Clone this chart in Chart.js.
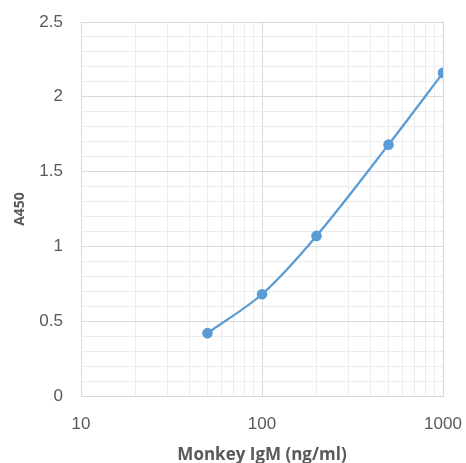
<!DOCTYPE html>
<html>
<head>
<meta charset="utf-8">
<script src="https://cdn.jsdelivr.net/npm/chart.js@4"></script>
<style>
  html,body{margin:0;padding:0;background:#fff;}
  #wrap{width:466px;height:463px;}
</style>
</head>
<body>
<div id="wrap"><canvas id="chart"></canvas></div>
<script>
// ===== Data =====
const concentrations = [50, 100, 200, 500, 1000];   // ng/ml
const absorbance = [0.42, 0.68, 1.07, 1.68, 2.16];  // A450
const xTickLabels = [10, 100, 1000];
const yTickLabels = [0, 0.5, 1, 1.5, 2, 2.5];

const gray = "#595959";
const blue = "#5B9BD5";

// minor grid for log axis: 1..9 per decade
function logTicks(){
  const out = [];
  for(let d=10; d<1000; d*=10){ for(let k=1;k<10;k++) out.push({value:k*d}); }
  out.push({value:1000});
  return out;
}
const isMajorX = v => xTickLabels.includes(Math.round(v));
const isMajorY = v => yTickLabels.some(t => Math.abs(t - v) < 1e-6);

new Chart(document.getElementById("chart"), {
  type: "line",
  data: {
    datasets: [{
      data: concentrations.map((c,i)=>({x:c, y:absorbance[i]})),
      borderColor: blue, backgroundColor: blue,
      borderWidth: 2.25, pointRadius: 4.2, pointHoverRadius: 4.2,
      tension: 0.3, fill: false
    }]
  },
  options: {
    responsive: true, maintainAspectRatio: false, animation: false,
    layout: { padding: { top: 22, right: 23, left: 0, bottom: 0 } },
    plugins: { legend: { display: false }, tooltip: { enabled: false } },
    scales: {
      x: {
        type: "logarithmic", min: 10, max: 1000,
        afterBuildTicks: axis => { axis.ticks = logTicks(); },
        afterFit: axis => { axis.height = 67; axis.paddingLeft = 0; axis.paddingRight = 0; },
        grid: { color: ctx => isMajorX(ctx.tick.value) ? "#d9d9d9" : "#ececec", drawTicks: false },
        border: { color: "#d9d9d9" },
        ticks: {
          autoSkip: false, maxRotation: 0, padding: 18, color: gray,
          font: { family: "Liberation Sans, Arial", size: 17 },
          callback: v => isMajorX(v) ? String(Math.round(v)) : ""
        },
        title: { display: true, text: "Monkey IgM (ng/ml)", color: gray, padding: { top: 6, bottom: -2 },
          font: { family: "Open Sans, Liberation Sans", size: 17, weight: "bold" } }
      },
      y: {
        min: 0, max: 2.5,
        ticks: {
          stepSize: 0.1, autoSkip: false, padding: 18, color: gray,
          font: { family: "Liberation Sans, Arial", size: 17 },
          callback: v => isMajorY(v) ? String(Math.round(v*10)/10) : ""
        },
        afterFit: axis => { axis.width = 81; axis.paddingTop = 0; axis.paddingBottom = 0; },
        grid: { color: ctx => isMajorY(ctx.tick.value) ? "#d9d9d9" : "#ececec", drawTicks: false },
        border: { color: "#d9d9d9" },
        title: { display: true, text: "A450", color: gray, padding: { top: 12, bottom: 0 },
          font: { family: "Open Sans, Liberation Sans", size: 14, weight: "bold" } }
      }
    }
  }
});
</script>
</body>
</html>
